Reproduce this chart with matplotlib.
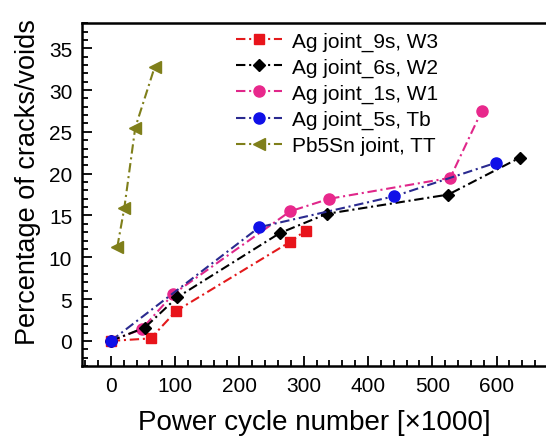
import matplotlib

matplotlib.use("Agg")
import matplotlib.pyplot as plt
from matplotlib.ticker import MultipleLocator

plt.rcParams["font.family"] = ["Liberation Sans", "DejaVu Sans"]

# cycles (x1000) and crack/void percentage
w3_cycles = [0, 62, 102, 278, 303]
w3_pct = [0.0, 0.3, 3.6, 11.8, 13.2]

w2_cycles = [0, 53, 103, 263, 336, 525, 636]
w2_pct = [0.0, 1.6, 5.2, 12.9, 15.2, 17.5, 21.9]

w1_cycles = [0, 48, 97, 279, 340, 528, 577]
w1_pct = [0.0, 1.4, 5.6, 15.5, 17.0, 19.5, 27.5]

tb_cycles = [0, 231, 441, 599]
tb_pct = [0.0, 13.6, 17.3, 21.3]

tt_cycles = [10, 21, 38, 68]
tt_pct = [11.2, 15.9, 25.5, 32.7]

labels = [
    "Ag joint_9s, W3",
    "Ag joint_6s, W2",
    "Ag joint_1s, W1",
    "Ag joint_5s, Tb",
    "Pb5Sn joint, TT",
]

fig = plt.figure(figsize=(5.46, 4.39), dpi=100)
ax = fig.add_axes([0.150, 0.164, 0.850, 0.781])

dashdot = (0, (4.5, 1.8, 1.0, 1.8))
ax.plot(w3_cycles, w3_pct, color="#e31a1c", ls=dashdot, lw=1.5,
        marker="s", ms=7, mfc="#e8141b", mec="#e8141b", label=labels[0], zorder=3)
ax.plot(w2_cycles, w2_pct, color="black", ls=dashdot, lw=1.5,
        marker="D", ms=6.5, label=labels[1], zorder=3)
ax.plot(w1_cycles, w1_pct, color="#e0278a", ls=dashdot, lw=1.5,
        marker="o", ms=8, mfc="#e8288c", mec="#e8288c", label=labels[2], zorder=2)
ax.plot(tb_cycles, tb_pct, color="#2a2a8f", ls=dashdot, lw=1.5,
        marker="o", ms=8, mfc="#1010e8", mec="#1010e8", label=labels[3], zorder=4)
ax.plot(tt_cycles, tt_pct, color="#7f7f1a", ls=dashdot, lw=1.5,
        marker="<", ms=8, mfc="#7f7f1a", mec="#7f7f1a", label=labels[4], zorder=3)

ax.set_xlim(-45, 677)
ax.set_ylim(-3, 38)
ax.xaxis.set_major_locator(MultipleLocator(100))
ax.xaxis.set_minor_locator(MultipleLocator(20))
ax.yaxis.set_major_locator(MultipleLocator(5))
ax.yaxis.set_minor_locator(MultipleLocator(1))
ax.tick_params(which="both", direction="in", top=False, right=False,
               labelsize=15, width=1.3)
ax.tick_params(which="major", length=7, pad=7)
ax.tick_params(which="minor", length=4)
ax.set_xticks([0, 100, 200, 300, 400, 500, 600])

for side in ("left", "bottom", "top"):
    ax.spines[side].set_linewidth(1.8)
ax.spines["right"].set_visible(False)

ax.set_xlabel("Power cycle number [\u00d71000]", fontsize=20, labelpad=10)
ax.set_ylabel("Percentage of cracks/voids", fontsize=19.5)
ax.yaxis.set_label_coords(-0.088, 0.54)

ax.legend(loc="upper left", bbox_to_anchor=(0.315, 1.0), frameon=False,
          fontsize=15, handlelength=2.2, handletextpad=0.45,
          labelspacing=0.33, borderaxespad=0.0)

fig.savefig("out.png", dpi=100)
